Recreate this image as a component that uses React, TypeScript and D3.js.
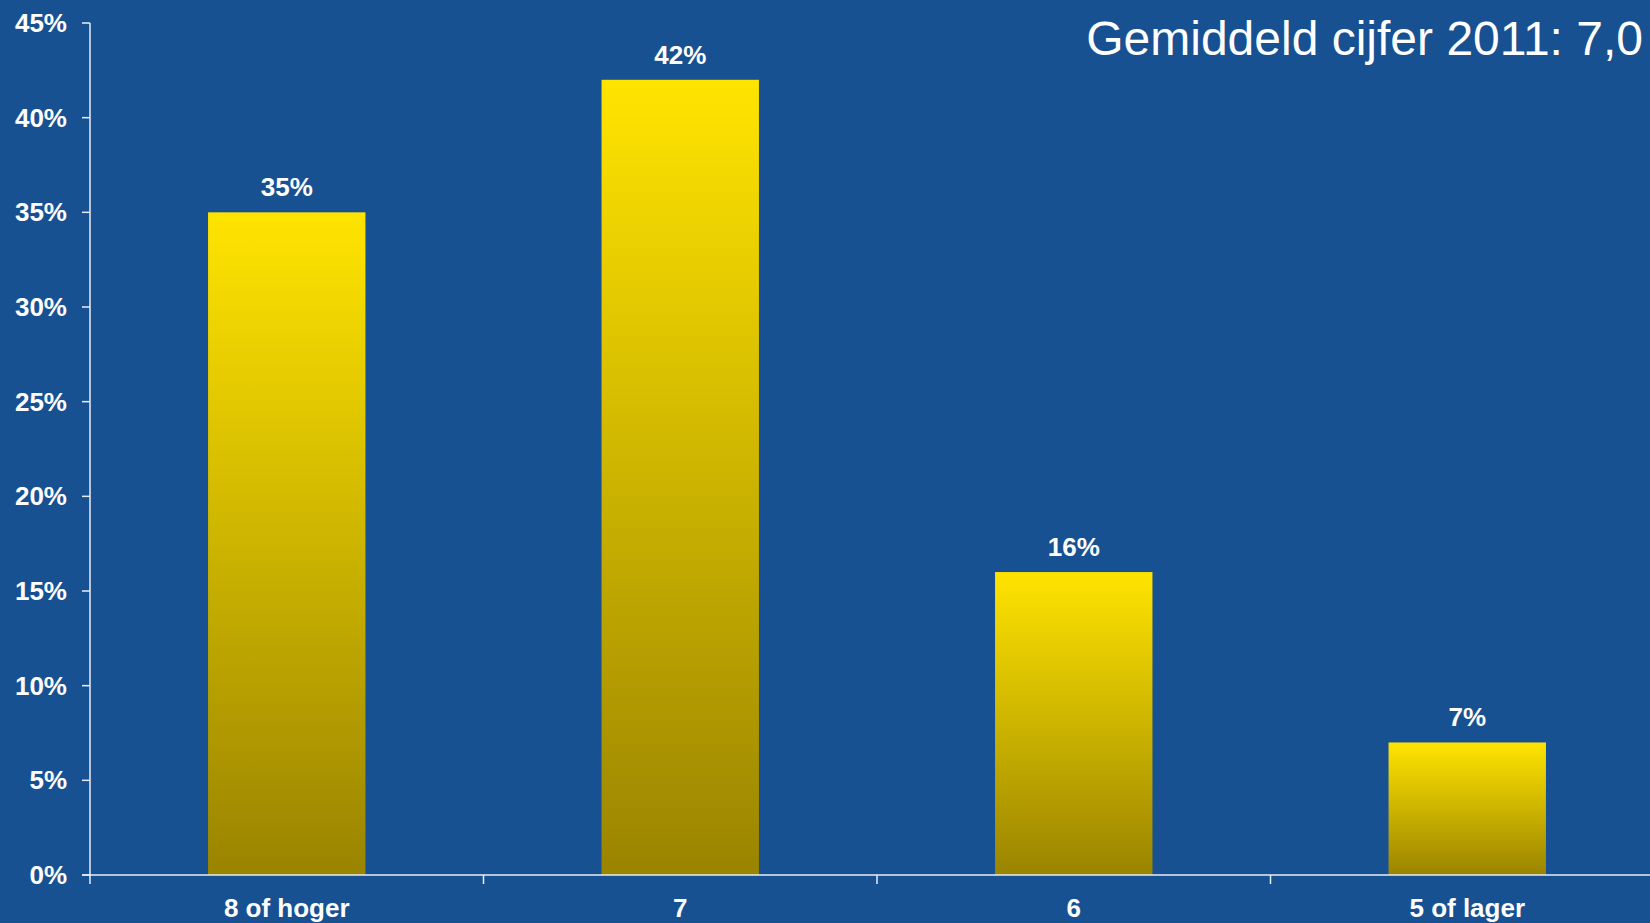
import { useEffect, useRef } from "react";
import * as d3 from "d3";

const categories = ["8 of hoger", "7", "6", "5 of lager"];
const values = [0.35, 0.42, 0.16, 0.07];
const yTicks = [0, 0.05, 0.1, 0.15, 0.2, 0.25, 0.3, 0.35, 0.4, 0.45];
const title = "Gemiddeld cijfer 2011: 7,0";

const W = 1650;
const H = 923;

export default function App() {
  const svgRef = useRef<SVGSVGElement>(null);

  useEffect(() => {
    document.body.style.margin = "0";
    if (!svgRef.current) return;
    const svg = d3.select(svgRef.current);
    svg.selectAll("*").remove();

    const font = "Arial, 'Liberation Sans', sans-serif";
    const x0 = 90;
    const yBase = 875;

    svg.append("rect").attr("width", W).attr("height", H).attr("fill", "#175192");

    const defs = svg.append("defs");
    const grad = defs
      .append("linearGradient")
      .attr("id", "barGrad")
      .attr("x1", 0).attr("y1", 0).attr("x2", 0).attr("y2", 1);
    grad.append("stop").attr("offset", "0%").attr("stop-color", "#ffe400");
    grad.append("stop").attr("offset", "100%").attr("stop-color", "#9a8400");

    const x = d3.scaleBand<string>().domain(categories).range([x0, x0 + 4 * 393.5]).padding(0);
    const y = d3.scaleLinear().domain([0, 0.45]).range([yBase, 23]);

    const barW = x.bandwidth() * 0.4;

    // bars
    svg
      .selectAll("rect.bar")
      .data(values)
      .join("rect")
      .attr("class", "bar")
      .attr("x", (_, i) => (x(categories[i]) as number) + (x.bandwidth() - barW) / 2)
      .attr("y", (d) => y(d))
      .attr("width", barW)
      .attr("height", (d) => yBase - y(d))
      .attr("fill", "url(#barGrad)");

    // value labels
    svg
      .selectAll("text.val")
      .data(values)
      .join("text")
      .attr("class", "val")
      .attr("x", (_, i) => (x(categories[i]) as number) + x.bandwidth() / 2)
      .attr("y", (d) => y(d) - 16)
      .attr("text-anchor", "middle")
      .attr("fill", "#ffffff")
      .attr("font-family", font)
      .attr("font-weight", "bold")
      .attr("font-size", 26)
      .text((d) => `${Math.round(d * 100)}%`);

    const axisColor = "#e8eef6";

    // y axis
    svg.append("line")
      .attr("x1", x0).attr("x2", x0)
      .attr("y1", 23).attr("y2", yBase + 9)
      .attr("stroke", axisColor).attr("stroke-width", 1.5);

    svg
      .selectAll("line.ytick")
      .data(yTicks)
      .join("line")
      .attr("class", "ytick")
      .attr("x1", x0 - 8).attr("x2", x0)
      .attr("y1", (d) => y(d)).attr("y2", (d) => y(d))
      .attr("stroke", axisColor).attr("stroke-width", 1.5);

    svg
      .selectAll("text.ylab")
      .data(yTicks)
      .join("text")
      .attr("class", "ylab")
      .attr("x", 67)
      .attr("y", (d) => y(d) + 9)
      .attr("text-anchor", "end")
      .attr("fill", "#ffffff")
      .attr("font-family", font)
      .attr("font-weight", "bold")
      .attr("font-size", 26)
      .text((d) => `${Math.round(d * 100)}%`);

    // x axis
    svg.append("line")
      .attr("x1", x0 - 8).attr("x2", W)
      .attr("y1", yBase).attr("y2", yBase)
      .attr("stroke", axisColor).attr("stroke-width", 1.5);

    svg
      .selectAll("line.xtick")
      .data(categories.slice(1))
      .join("line")
      .attr("class", "xtick")
      .attr("x1", (d) => x(d) as number).attr("x2", (d) => x(d) as number)
      .attr("y1", yBase).attr("y2", yBase + 9)
      .attr("stroke", axisColor).attr("stroke-width", 1.5);

    svg
      .selectAll("text.xlab")
      .data(categories)
      .join("text")
      .attr("class", "xlab")
      .attr("x", (d) => (x(d) as number) + x.bandwidth() / 2)
      .attr("y", 917)
      .attr("text-anchor", "middle")
      .attr("fill", "#ffffff")
      .attr("font-family", font)
      .attr("font-weight", "bold")
      .attr("font-size", 26)
      .text((d) => d);

    // title
    svg.append("text")
      .attr("x", 1643)
      .attr("y", 55)
      .attr("text-anchor", "end")
      .attr("fill", "#ffffff")
      .attr("font-family", font)
      .attr("font-size", 48)
      .text(title);
  }, []);

  return <svg ref={svgRef} width={W} height={H} style={{ display: "block" }} />;
}
